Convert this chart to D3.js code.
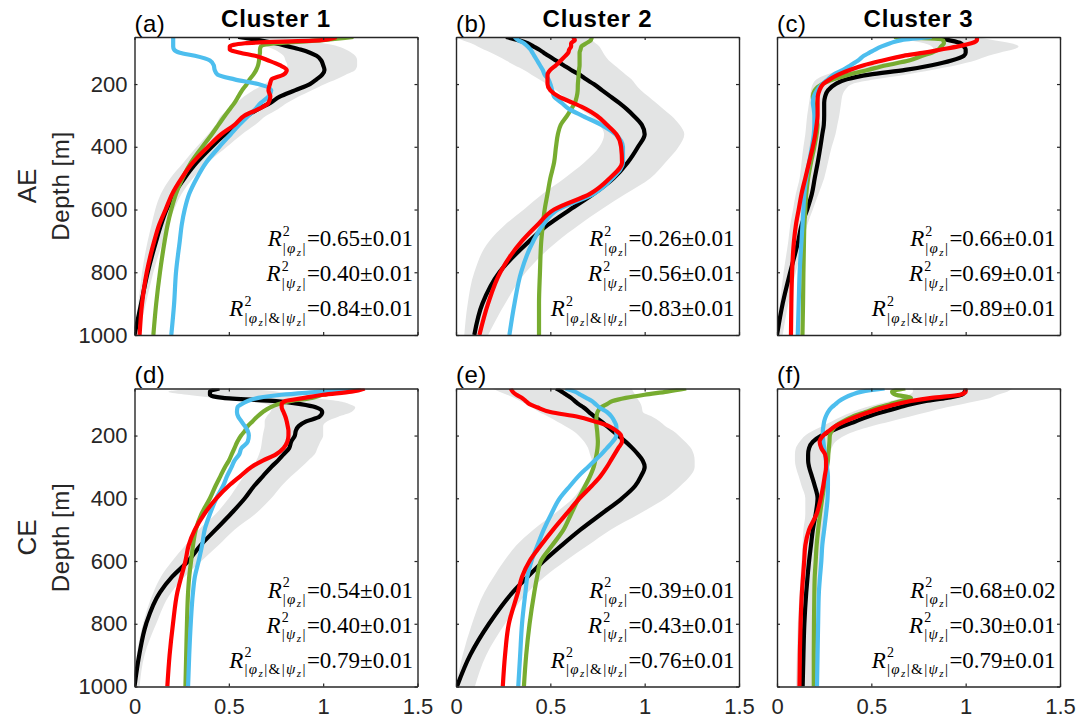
<!DOCTYPE html>
<html>
<head>
<meta charset="utf-8">
<script src="https://cdn.jsdelivr.net/npm/d3@7"></script>
<style>
  body { margin: 0; background: #fff; }
  svg { display: block; }
</style>
</head>
<body>
<div id="chart"></div>
<script>
// depth grid shared by every profile [m]
const DEPTH = [50, 60, 70, 80, 90, 100, 110, 125, 140, 155, 170, 185, 200, 220, 240, 260, 280, 300, 330, 360, 400, 450, 500, 550, 600, 650, 700, 800, 900, 1000];

const X_TICKS = [0, 0.5, 1, 1.5];
const Y_TICKS = [200, 400, 600, 800, 1000];
const CLUSTERS = ["Cluster 1", "Cluster 2", "Cluster 3"];
const ROWS = ["AE", "CE"];
const LETTERS = ["(a)", "(b)", "(c)", "(d)", "(e)", "(f)"];

// (a) AE cluster 1
const aLo    = [0.50, 0.58, 0.64, 0.70, 0.74, 0.77, 0.79, 0.80, 0.81, 0.80, 0.77, 0.73, 0.69, 0.63, 0.58, 0.54, 0.50, 0.46, 0.43, 0.39, 0.33, 0.26, 0.19, 0.14, 0.11, 0.09, 0.07, 0.04, 0.02, 0.0];
const aHi    = [0.75, 0.88, 1.00, 1.08, 1.12, 1.15, 1.17, 1.18, 1.18, 1.17, 1.12, 1.07, 1.01, 0.94, 0.87, 0.81, 0.76, 0.70, 0.64, 0.57, 0.49, 0.39, 0.31, 0.25, 0.21, 0.175, 0.15, 0.10, 0.06, 0.02];
const aBlack = [0.55, 0.66, 0.745, 0.815, 0.88, 0.93, 0.965, 0.99, 1.0, 1.007, 0.995, 0.965, 0.93, 0.85, 0.77, 0.72, 0.655, 0.60, 0.54, 0.48, 0.41, 0.33, 0.265, 0.21, 0.17, 0.14, 0.115, 0.07, 0.035, 0.0];
const aGreen = [1.16, 1.0, 0.75, 0.67, 0.665, 0.665, 0.662, 0.66, 0.655, 0.645, 0.63, 0.61, 0.595, 0.57, 0.55, 0.53, 0.505, 0.48, 0.445, 0.41, 0.36, 0.30, 0.255, 0.22, 0.195, 0.175, 0.16, 0.135, 0.115, 0.10];
const aBlue  = [0.205, 0.205, 0.205, 0.205, 0.21, 0.24, 0.32, 0.40, 0.42, 0.425, 0.44, 0.53, 0.655, 0.725, 0.71, 0.67, 0.64, 0.605, 0.555, 0.51, 0.45, 0.38, 0.33, 0.29, 0.266, 0.25, 0.24, 0.22, 0.21, 0.195];
const aRed   = [1.07, 0.99, 0.585, 0.505, 0.505, 0.56, 0.64, 0.71, 0.77, 0.807, 0.79, 0.727, 0.718, 0.71, 0.72, 0.71, 0.656, 0.585, 0.53, 0.46, 0.39, 0.31, 0.25, 0.20, 0.165, 0.13, 0.105, 0.065, 0.04, 0.027];

// (b) AE cluster 2
const bLo    = [0.0, 0.035, 0.08, 0.115, 0.147, 0.186, 0.218, 0.265, 0.31, 0.36, 0.40, 0.44, 0.48, 0.53, 0.57, 0.62, 0.66, 0.71, 0.76, 0.785, 0.76, 0.68, 0.575, 0.46, 0.36, 0.257, 0.177, 0.097, 0.062, 0.044];
const bHi    = [0.70, 0.72, 0.74, 0.76, 0.77, 0.78, 0.79, 0.81, 0.84, 0.87, 0.90, 0.93, 0.95, 0.98, 1.02, 1.06, 1.10, 1.14, 1.185, 1.21, 1.18, 1.11, 1.03, 0.90, 0.77, 0.65, 0.54, 0.37, 0.26, 0.17];
const bBlack = [0.265, 0.33, 0.38, 0.41, 0.44, 0.465, 0.49, 0.53, 0.57, 0.61, 0.655, 0.69, 0.73, 0.775, 0.82, 0.865, 0.905, 0.94, 0.985, 1.0, 0.965, 0.91, 0.835, 0.73, 0.605, 0.485, 0.39, 0.23, 0.14, 0.097];
const bGreen = [0.72, 0.715, 0.69, 0.665, 0.66, 0.655, 0.655, 0.655, 0.655, 0.652, 0.65, 0.648, 0.646, 0.645, 0.64, 0.63, 0.61, 0.59, 0.555, 0.54, 0.53, 0.52, 0.50, 0.485, 0.47, 0.46, 0.452, 0.445, 0.44, 0.44];
const bBlue  = [0.31, 0.33, 0.36, 0.38, 0.395, 0.405, 0.415, 0.43, 0.445, 0.46, 0.47, 0.49, 0.50, 0.51, 0.52, 0.56, 0.60, 0.665, 0.77, 0.845, 0.885, 0.885, 0.83, 0.73, 0.54, 0.46, 0.41, 0.345, 0.31, 0.283];
const bRed   = [0.62, 0.63, 0.61, 0.61, 0.60, 0.595, 0.58, 0.555, 0.53, 0.50, 0.485, 0.485, 0.485, 0.50, 0.545, 0.62, 0.69, 0.745, 0.80, 0.85, 0.875, 0.88, 0.815, 0.71, 0.52, 0.43, 0.35, 0.235, 0.17, 0.124];

// (c) AE cluster 3
const cLo    = [0.62, 0.70, 0.78, 0.82, 0.83, 0.80, 0.75, 0.64, 0.50, 0.36, 0.26, 0.21, 0.19, 0.18, 0.175, 0.17, 0.165, 0.16, 0.155, 0.15, 0.14, 0.13, 0.12, 0.10, 0.085, 0.07, 0.06, 0.035, 0.015, 0.0];
const cHi    = [1.05, 1.15, 1.24, 1.28, 1.25, 1.18, 1.12, 1.05, 0.95, 0.82, 0.68, 0.52, 0.40, 0.36, 0.345, 0.34, 0.335, 0.33, 0.32, 0.31, 0.29, 0.27, 0.25, 0.22, 0.19, 0.16, 0.14, 0.10, 0.06, 0.03];
const cBlack = [0.82, 0.91, 0.975, 0.99, 1.0, 1.0, 0.99, 0.925, 0.82, 0.68, 0.49, 0.37, 0.31, 0.27, 0.255, 0.25, 0.25, 0.25, 0.248, 0.24, 0.23, 0.216, 0.20, 0.185, 0.16, 0.13, 0.113, 0.07, 0.03, 0.0];
const cGreen = [0.62, 0.88, 0.885, 0.87, 0.855, 0.82, 0.77, 0.70, 0.58, 0.48, 0.38, 0.30, 0.24, 0.20, 0.19, 0.195, 0.20, 0.205, 0.215, 0.21, 0.198, 0.18, 0.165, 0.155, 0.15, 0.145, 0.143, 0.14, 0.138, 0.135];
const cBlue  = [0.82, 0.66, 0.60, 0.555, 0.52, 0.49, 0.46, 0.43, 0.39, 0.35, 0.30, 0.27, 0.24, 0.212, 0.195, 0.19, 0.195, 0.198, 0.198, 0.195, 0.185, 0.17, 0.155, 0.145, 0.14, 0.135, 0.13, 0.12, 0.115, 0.11];
const cRed   = [1.06, 1.06, 1.03, 0.96, 0.87, 0.78, 0.67, 0.56, 0.46, 0.385, 0.325, 0.28, 0.245, 0.225, 0.216, 0.215, 0.215, 0.215, 0.21, 0.203, 0.19, 0.17, 0.15, 0.13, 0.115, 0.10, 0.09, 0.08, 0.076, 0.074];

// (d) CE cluster 1
const dLo    = [0.35, 0.18, 0.28, 0.42, 0.60, 0.70, 0.73, 0.72, 0.70, 0.69, 0.69, 0.685, 0.68, 0.675, 0.67, 0.66, 0.645, 0.62, 0.58, 0.545, 0.50, 0.43, 0.34, 0.27, 0.20, 0.14, 0.10, 0.045, 0.012, 0.0];
const dHi    = [0.55, 0.76, 0.85, 0.95, 1.08, 1.14, 1.17, 1.15, 1.08, 1.02, 1.0, 1.0, 1.0, 0.985, 0.97, 0.955, 0.92, 0.885, 0.83, 0.78, 0.725, 0.64, 0.53, 0.445, 0.355, 0.266, 0.195, 0.115, 0.053, 0.027];
const dBlack = [0.45, 0.40, 0.40, 0.47, 0.75, 0.88, 0.96, 0.995, 0.98, 0.91, 0.87, 0.855, 0.85, 0.83, 0.82, 0.79, 0.76, 0.725, 0.68, 0.635, 0.585, 0.51, 0.43, 0.35, 0.285, 0.20, 0.135, 0.062, 0.025, 0.0];
const dGreen = [1.2, 1.10, 1.0, 0.94, 0.83, 0.76, 0.72, 0.68, 0.65, 0.625, 0.60, 0.585, 0.565, 0.545, 0.53, 0.515, 0.50, 0.48, 0.455, 0.43, 0.40, 0.355, 0.325, 0.31, 0.30, 0.29, 0.284, 0.278, 0.274, 0.27];
const dBlue  = [1.19, 0.99, 0.78, 0.656, 0.60, 0.567, 0.546, 0.543, 0.55, 0.567, 0.585, 0.60, 0.606, 0.60, 0.567, 0.555, 0.53, 0.515, 0.49, 0.47, 0.434, 0.40, 0.372, 0.358, 0.34, 0.32, 0.31, 0.298, 0.29, 0.284];
const dRed   = [1.22, 1.15, 1.0, 0.90, 0.80, 0.78, 0.78, 0.79, 0.80, 0.807, 0.812, 0.816, 0.816, 0.81, 0.79, 0.75, 0.68, 0.62, 0.56, 0.50, 0.434, 0.37, 0.32, 0.287, 0.27, 0.248, 0.227, 0.204, 0.186, 0.174];

// (e) CE cluster 2
const eLo    = [0.19, 0.23, 0.27, 0.31, 0.34, 0.37, 0.40, 0.44, 0.49, 0.535, 0.58, 0.62, 0.65, 0.68, 0.70, 0.71, 0.72, 0.72, 0.70, 0.67, 0.62, 0.52, 0.41, 0.32, 0.255, 0.20, 0.15, 0.085, 0.035, 0.0];
const eHi    = [0.93, 0.94, 0.95, 0.96, 0.97, 0.98, 0.985, 0.99, 1.04, 1.08, 1.11, 1.15, 1.18, 1.215, 1.245, 1.26, 1.265, 1.265, 1.24, 1.19, 1.11, 0.97, 0.82, 0.70, 0.58, 0.47, 0.38, 0.26, 0.16, 0.10];
const eBlack = [0.53, 0.56, 0.585, 0.61, 0.63, 0.65, 0.675, 0.705, 0.735, 0.77, 0.80, 0.83, 0.86, 0.90, 0.935, 0.965, 0.99, 1.0, 0.98, 0.95, 0.88, 0.77, 0.66, 0.56, 0.465, 0.38, 0.30, 0.175, 0.075, 0.005];
const eGreen = [1.22, 1.12, 1.0, 0.90, 0.83, 0.80, 0.77, 0.75, 0.745, 0.743, 0.745, 0.748, 0.75, 0.752, 0.75, 0.745, 0.738, 0.73, 0.71, 0.685, 0.65, 0.61, 0.57, 0.51, 0.45, 0.43, 0.415, 0.39, 0.372, 0.36];
const eBlue  = [0.58, 0.63, 0.66, 0.69, 0.72, 0.74, 0.76, 0.80, 0.825, 0.84, 0.85, 0.85, 0.85, 0.83, 0.80, 0.77, 0.735, 0.70, 0.648, 0.605, 0.55, 0.505, 0.465, 0.432, 0.40, 0.378, 0.368, 0.35, 0.34, 0.33];
const eRed   = [0.29, 0.30, 0.32, 0.35, 0.37, 0.39, 0.43, 0.50, 0.645, 0.735, 0.81, 0.85, 0.875, 0.88, 0.86, 0.84, 0.82, 0.80, 0.765, 0.72, 0.655, 0.585, 0.515, 0.45, 0.39, 0.35, 0.328, 0.28, 0.26, 0.248];

// (f) CE cluster 3
const fLo    = [0.72, 0.72, 0.70, 0.66, 0.60, 0.53, 0.47, 0.40, 0.34, 0.29, 0.24, 0.19, 0.15, 0.12, 0.10, 0.095, 0.095, 0.10, 0.115, 0.13, 0.15, 0.15, 0.14, 0.135, 0.13, 0.125, 0.12, 0.11, 0.105, 0.10];
const fHi    = [1.25, 1.22, 1.17, 1.13, 1.06, 0.98, 0.90, 0.80, 0.70, 0.60, 0.50, 0.42, 0.36, 0.31, 0.29, 0.28, 0.275, 0.272, 0.27, 0.27, 0.265, 0.26, 0.25, 0.24, 0.23, 0.22, 0.21, 0.20, 0.195, 0.19];
const fBlack = [1.0, 0.995, 0.98, 0.90, 0.79, 0.71, 0.65, 0.56, 0.48, 0.415, 0.35, 0.29, 0.235, 0.19, 0.17, 0.165, 0.165, 0.17, 0.185, 0.20, 0.215, 0.205, 0.19, 0.18, 0.17, 0.162, 0.155, 0.145, 0.14, 0.136];
const fGreen = [0.68, 0.61, 0.63, 0.71, 0.66, 0.60, 0.54, 0.47, 0.40, 0.35, 0.31, 0.29, 0.28, 0.278, 0.275, 0.272, 0.27, 0.265, 0.258, 0.25, 0.24, 0.228, 0.218, 0.21, 0.205, 0.20, 0.198, 0.196, 0.195, 0.195];
const fBlue  = [0.57, 0.45, 0.395, 0.358, 0.33, 0.31, 0.29, 0.27, 0.258, 0.25, 0.246, 0.243, 0.243, 0.246, 0.25, 0.255, 0.26, 0.265, 0.27, 0.27, 0.268, 0.26, 0.25, 0.24, 0.235, 0.228, 0.222, 0.218, 0.215, 0.212];
const fRed   = [1.0, 1.0, 0.97, 0.82, 0.71, 0.63, 0.57, 0.49, 0.42, 0.36, 0.31, 0.275, 0.245, 0.226, 0.235, 0.255, 0.26, 0.26, 0.253, 0.245, 0.232, 0.21, 0.17, 0.15, 0.144, 0.138, 0.132, 0.125, 0.121, 0.119];

// R^2 scores per panel (a..f)
const R2_PHI      = [0.65, 0.26, 0.66, 0.54, 0.39, 0.68];
const R2_PHI_ERR  = [0.01, 0.01, 0.01, 0.01, 0.01, 0.02];
const R2_PSI      = [0.40, 0.56, 0.69, 0.40, 0.43, 0.30];
const R2_PSI_ERR  = [0.01, 0.01, 0.01, 0.01, 0.01, 0.01];
const R2_BOTH     = [0.84, 0.83, 0.89, 0.79, 0.76, 0.79];
const R2_BOTH_ERR = [0.01, 0.01, 0.01, 0.01, 0.01, 0.01];

const panels = [
    { lo: aLo, hi: aHi, black: aBlack, green: aGreen, blue: aBlue, red: aRed },
    { lo: bLo, hi: bHi, black: bBlack, green: bGreen, blue: bBlue, red: bRed },
    { lo: cLo, hi: cHi, black: cBlack, green: cGreen, blue: cBlue, red: cRed },
    { lo: dLo, hi: dHi, black: dBlack, green: dGreen, blue: dBlue, red: dRed },
    { lo: eLo, hi: eHi, black: eBlack, green: eGreen, blue: eBlue, red: eRed },
    { lo: fLo, hi: fHi, black: fBlack, green: fGreen, blue: fBlue, red: fRed }
];

const colors = { black: "#000000", green: "#77AC30", blue: "#4DBEEE", red: "#FF0000" };
const axisColor = "#262626";
const sans = "'Liberation Sans', Arial, Helvetica, sans-serif";
const serif = "'Liberation Serif', 'Times New Roman', serif";

const width = 1089, height = 722;
const panelW = 283, panelH = 298;
const lefts = [134.5, 456, 777];
const tops = [37, 388.5];

const svg = d3.select("#chart")
    .append("svg")
    .attr("width", width)
    .attr("height", height);

const fmt = d3.format(".2f");

// R^2_{sub}=v±e as one text element: sup raised, sub lowered and pulled back under the sup
function r2Label(g, xR, yB, parts, value, err) {
    const t = g.append("text")
        .attr("x", xR).attr("y", yB)
        .attr("text-anchor", "end")
        .attr("font-family", serif).attr("font-size", 23)
        .attr("fill", "#000");
    t.append("tspan").attr("font-style", "italic").text("R");
    t.append("tspan").attr("font-size", 14).attr("dy", -10.5).attr("dx", 1).text("2");
    parts.forEach((p, k) => {
        const s = t.append("tspan")
            .attr("font-style", p.it ? "italic" : "normal")
            .attr("font-size", p.small ? 11 : 15)
            .attr("letter-spacing", 1.4)
            .text(p.t);
        let dy = p.dy || 0;
        if (k === 0) { s.attr("dx", -7); dy += 17; }
        s.attr("dy", dy);
    });
    t.append("tspan").attr("dy", -6.5).text("=" + fmt(value) + "\u00B1" + fmt(err));
}

const subPhi = [{ t: "|" }, { t: "\u03C6", it: true }, { t: "z", it: true, small: true, dy: 3 }, { t: "|", dy: -3 }];
const subPsi = [{ t: "|" }, { t: "\u03C8", it: true }, { t: "z", it: true, small: true, dy: 3 }, { t: "|", dy: -3 }];
const subBoth = subPhi.concat([{ t: "&" }], subPsi);

panels.forEach((p, i) => {
    const row = Math.floor(i / 3), col = i % 3;
    const L = lefts[col], T = tops[row];

    const x = d3.scaleLinear().domain([0, 1.5]).range([L, L + panelW]);
    const y = d3.scaleLinear().domain([50, 1000]).range([T, T + panelH]);

    const g = svg.append("g");

    svg.append("clipPath").attr("id", "clip" + i)
        .append("rect")
        .attr("x", L).attr("y", T)
        .attr("width", panelW).attr("height", panelH);

    const plot = g.append("g").attr("clip-path", "url(#clip" + i + ")");

    const band = d3.area()
        .y((d, k) => y(DEPTH[k]))
        .x0((d, k) => x(p.lo[k]))
        .x1((d, k) => x(p.hi[k]))
        .curve(d3.curveMonotoneY);

    plot.append("path")
        .datum(DEPTH)
        .attr("d", band)
        .attr("fill", "#E3E4E4");

    ["black", "green", "blue", "red"].forEach(key => {
        const line = d3.line()
            .y((d, k) => y(DEPTH[k]))
            .x(d => x(d))
            .curve(d3.curveMonotoneY);
        plot.append("path")
            .datum(p[key])
            .attr("d", line)
            .attr("fill", "none")
            .attr("stroke", colors[key])
            .attr("stroke-width", 4.2)
            .attr("stroke-linejoin", "round");
    });

    // axes: ticks on all four sides, pointing inward
    const left = d3.axisLeft(y).tickValues(Y_TICKS).tickSizeInner(-3).tickSizeOuter(0).tickPadding(7)
        .tickFormat(d3.format("d"));
    if (col !== 0) left.tickFormat("");
    const right = d3.axisRight(y).tickValues(Y_TICKS).tickSizeInner(-3).tickSizeOuter(0).tickFormat("");
    const bottom = d3.axisBottom(x).tickValues(X_TICKS).tickSizeInner(-3).tickSizeOuter(0).tickPadding(12)
        .tickFormat(d3.format(""));
    if (row !== 1) bottom.tickFormat("");
    const top = d3.axisTop(x).tickValues(X_TICKS).tickSizeInner(-3).tickSizeOuter(0).tickFormat("");

    const axes = [
        g.append("g").attr("transform", "translate(" + L + ",0)").call(left),
        g.append("g").attr("transform", "translate(" + (L + panelW) + ",0)").call(right),
        g.append("g").attr("transform", "translate(0," + (T + panelH) + ")").call(bottom),
        g.append("g").attr("transform", "translate(0," + T + ")").call(top)
    ];
    axes.forEach(a => {
        a.select(".domain").attr("stroke", axisColor).attr("stroke-width", 1.4);
        a.selectAll(".tick line").attr("stroke", axisColor).attr("stroke-width", 1.2);
        a.selectAll(".tick text")
            .attr("fill", axisColor)
            .attr("font-family", sans)
            .attr("font-size", 22);
    });

    // panel letter
    g.append("text")
        .attr("x", L).attr("y", T - 5.5)
        .attr("font-family", sans).attr("font-size", 24)
        .attr("letter-spacing", 0.5)
        .attr("fill", "#000")
        .text(LETTERS[i]);

    if (row === 0) {
        g.append("text")
            .attr("x", L + panelW / 2).attr("y", T - 10)
            .attr("text-anchor", "middle")
            .attr("font-family", sans).attr("font-size", 24)
            .attr("font-weight", "bold")
            .attr("letter-spacing", 0.8)
            .text(CLUSTERS[col]);
    }

    if (col === 0) {
        g.append("text")
            .attr("transform", "translate(69," + (T + panelH / 2) + ") rotate(-90)")
            .attr("text-anchor", "middle")
            .attr("font-family", sans).attr("font-size", 24)
            .attr("letter-spacing", 0.6)
            .attr("fill", axisColor)
            .text("Depth [m]");
        g.append("text")
            .attr("transform", "translate(36," + (T + panelH / 2) + ") rotate(-90)")
            .attr("text-anchor", "middle")
            .attr("font-family", sans).attr("font-size", 26)
            .attr("fill", axisColor)
            .text(ROWS[row]);
    }

    const xR = L + panelW - 4.5, yB = T + panelH;
    r2Label(g, xR, yB - 89, subPhi, R2_PHI[i], R2_PHI_ERR[i]);
    r2Label(g, xR, yB - 54, subPsi, R2_PSI[i], R2_PSI_ERR[i]);
    r2Label(g, xR, yB - 19, subBoth, R2_BOTH[i], R2_BOTH_ERR[i]);
});
</script>
</body>
</html>
